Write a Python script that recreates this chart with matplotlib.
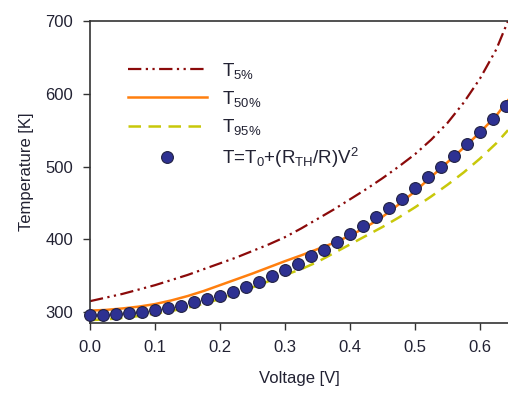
import matplotlib
matplotlib.use("Agg")
import matplotlib.pyplot as plt

plt.rcParams['font.family'] = ['Liberation Sans', 'DejaVu Sans']
plt.rcParams['mathtext.fontset'] = 'custom'
plt.rcParams['mathtext.rm'] = 'Liberation Sans'
plt.rcParams['mathtext.it'] = 'Liberation Sans'
plt.rcParams['mathtext.bf'] = 'Liberation Sans'

# Curve data
v_curve = [0.0, 0.025, 0.05, 0.075, 0.10, 0.125, 0.15, 0.175, 0.20, 0.225,
           0.25, 0.275, 0.30, 0.325, 0.35, 0.375, 0.40, 0.425, 0.45, 0.475,
           0.50, 0.525, 0.55, 0.575, 0.60, 0.625, 0.643]
t5 = [315, 320, 325, 331, 337, 344, 351, 359, 367, 375,
      384, 393, 403, 415, 428, 441, 455, 469, 484, 500,
      517, 537, 560, 588, 621, 661, 700]
t50 = [302, 303, 305, 307.5, 311, 316, 322, 329, 337, 345,
       353, 361.5, 370, 378, 386.5, 395, 405, 417, 431, 448,
       466, 486, 506, 526, 547, 570, 591]
t95 = [289, 290, 292, 294.5, 298, 301.5, 306, 311.5, 318, 325.5,
       334, 342.5, 351, 359, 369, 381, 393, 405, 417, 430,
       444, 459, 475, 492, 511, 532, 550]

# Analytic model points
v_dots = [0.00, 0.02, 0.04, 0.06, 0.08, 0.10, 0.12, 0.14, 0.16, 0.18, 0.20,
          0.22, 0.24, 0.26, 0.28, 0.30, 0.32, 0.34, 0.36, 0.38, 0.40, 0.42,
          0.44, 0.46, 0.48, 0.50, 0.52, 0.54, 0.56, 0.58, 0.60, 0.62, 0.64]
t_dots = [296, 296, 297, 298.5, 300.5, 303, 305.5, 309, 313.5, 318, 322,
          328, 334, 341, 349, 358, 366.5, 376.5, 386, 396.5, 407, 418,
          430.5, 443, 456, 470.5, 485, 500, 515, 531, 547.5, 565, 583]

labels = [r'T$_{5\%}$', r'T$_{50\%}$', r'T$_{95\%}$', r'T=T$_0$+(R$_{TH}$/R)V$^2$']
xticks = [0.0, 0.1, 0.2, 0.3, 0.4, 0.5, 0.6]
yticks = [300, 400, 500, 600, 700]

fig = plt.figure(figsize=(5.08, 3.96), dpi=100)
ax = fig.add_axes([90/508, 73/396, 1 - 90/508, (323 - 21)/396])

ax.plot(v_curve, t5, color='#8B0A0A', lw=1.6, dashes=[6, 2, 1, 2, 1, 2], label=labels[0])
ax.plot(v_curve, t50, color='#FF7F0E', lw=1.8, label=labels[1])
ax.plot(v_curve, t95, color='#C8C80A', lw=1.8, dashes=[5, 3], label=labels[2])
ax.plot(v_dots, t_dots, ls='none', marker='o', ms=8.5, mfc='#2E3192', mec='#222244',
        mew=0.8, label=labels[3], clip_on=False, zorder=5)

ax.set_xlim(0, 0.643)
ax.set_ylim(285, 700)
ax.set_xticks(xticks)
ax.set_xticklabels([f'{x:.1f}' for x in xticks])
ax.set_yticks(yticks)

ax.spines['right'].set_visible(False)
for s in ['left', 'bottom', 'top']:
    ax.spines[s].set_color('#333333')
    ax.spines[s].set_linewidth(1.2)
ax.tick_params(direction='out', length=5, width=1, labelsize=12,
               colors='#333333', labelcolor='#222233', pad=7)
ax.tick_params(top=False, right=False)

ax.set_xlabel('Voltage [V]', fontsize=12, color='#222233', labelpad=12)
ax.set_ylabel('Temperature [K]', fontsize=12, color='#222233', labelpad=8)

leg = ax.legend(loc='upper left', bbox_to_anchor=(0.05, 0.925), frameon=False,
                fontsize=13.5, handlelength=4.2, handletextpad=0.8,
                labelspacing=0.45, numpoints=1)
for t in leg.get_texts():
    t.set_color('#222233')

fig.savefig('out.png', dpi=100)
